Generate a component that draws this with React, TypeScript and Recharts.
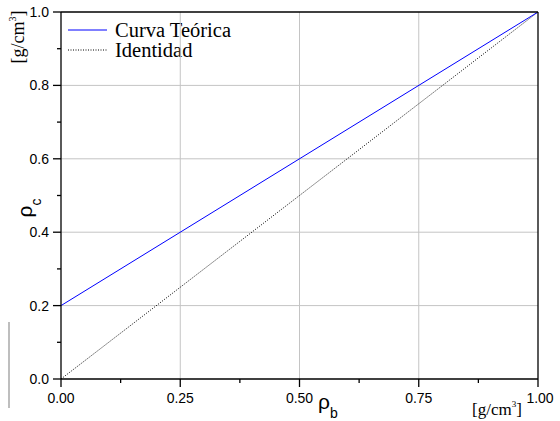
import React from 'react';
import { LineChart, Line, XAxis, YAxis, ReferenceLine, Customized } from 'recharts';

const xValues = [0, 1];
const curvaValues = [0.2, 1];
const identValues = [0, 1];

const xTicks = [0, 0.125, 0.25, 0.375, 0.5, 0.625, 0.75, 0.875, 1];
const xMajor = [0, 0.25, 0.5, 0.75, 1];
const xTickLabels = ['0.00', '0.25', '0.50', '0.75', '1.00'];
const yTicks = [0, 0.1, 0.2, 0.3, 0.4, 0.5, 0.6, 0.7, 0.8, 0.9, 1];
const yMajor = [0, 0.2, 0.4, 0.6, 0.8, 1];
const yTickLabels = ['0.0', '0.2', '0.4', '0.6', '0.8', '1.0'];
const xGrid = [0.25, 0.5, 0.75];
const yGrid = [0.2, 0.4, 0.6, 0.8];

const data = xValues.map((x, i) => ({ x, curva: curvaValues[i], ident: identValues[i] }));

const SANS = "'Liberation Sans', Arial, sans-serif";
const SERIF = "'Liberation Serif', 'Times New Roman', serif";

const XTick = (props: any) => {
  const { x, y, payload } = props;
  const idx = xMajor.indexOf(payload.value);
  const major = idx >= 0;
  return (
    <g>
      <line x1={x} x2={x} y1={y} y2={y + (major ? 8 : 4)} stroke="#000" strokeWidth={1.3} />
      {major && (
        <text x={x + (idx === 4 ? 2 : 0)} y={y + 24} textAnchor="middle" fontFamily={SANS} fontSize={14} fill="#000">
          {xTickLabels[idx]}
        </text>
      )}
    </g>
  );
};

const YTick = (props: any) => {
  const { x, y, payload } = props;
  const idx = yMajor.findIndex((v) => Math.abs(v - payload.value) < 1e-9);
  const major = idx >= 0;
  return (
    <g>
      <line x1={x} x2={x - (major ? 8 : 4)} y1={y} y2={y} stroke="#000" strokeWidth={1.3} />
      {major && (
        <text x={x - 12} y={y + 5} textAnchor="end" fontFamily={SANS} fontSize={14} fill="#000">
          {yTickLabels[idx]}
        </text>
      )}
    </g>
  );
};

const Annotations = () => (
  <g>
    <text transform="translate(32,208) rotate(-90)" x={0} y={0} textAnchor="middle" fontFamily={SANS} fontSize={21} fill="#000">
      ρ<tspan dy={9} fontSize={14}>c</tspan>
    </text>
    <text transform="translate(24,37) rotate(-90)" x={0} y={0} textAnchor="middle" fontFamily={SERIF} fontSize={18} fill="#000">
      [g/cm<tspan dy={-8} fontSize={10}>3</tspan><tspan dy={8}>]</tspan>
    </text>
    <text x={318} y={409} textAnchor="start" fontFamily={SANS} fontSize={21} fill="#000">
      ρ<tspan dy={9} fontSize={14}>b</tspan>
    </text>
    <text x={472} y={415} textAnchor="start" fontFamily={SERIF} fontSize={17} fill="#000">
      [g/cm<tspan dy={-8} fontSize={9}>3</tspan><tspan dy={8}>]</tspan>
    </text>
    <line x1={68} x2={107} y1={30} y2={30} stroke="#0000ff" strokeWidth={1} />
    <text x={115} y={37} fontFamily={SERIF} fontSize={20.5} fill="#000">Curva Teórica</text>
    <line x1={68} x2={107} y1={50} y2={50} stroke="#000" strokeWidth={1} strokeDasharray="1 1.5" />
    <text x={115} y={57} fontFamily={SERIF} fontSize={20.5} fill="#000">Identidad</text>
    <line x1={9} x2={9} y1={322} y2={408} stroke="#a8a8a8" strokeWidth={1.5} />
  </g>
);

export default function App() {
  return (
    <div style={{ position: 'absolute', left: 0, top: 0, background: '#fff' }}>
      <LineChart width={560} height={421} data={data} margin={{ top: 12, right: 22, left: 0, bottom: 0 }}>
        {xGrid.map((v) => (
          <ReferenceLine key={'gx' + v} x={v} stroke="#c4c4c4" strokeWidth={1} />
        ))}
        {yGrid.map((v) => (
          <ReferenceLine key={'gy' + v} y={v} stroke="#c4c4c4" strokeWidth={1} />
        ))}
        <XAxis
          dataKey="x"
          type="number"
          domain={[0, 1]}
          ticks={xTicks}
          interval={0}
          height={42}
          tickSize={0}
          tickMargin={0}
          tickLine={false}
          tick={<XTick />}
          axisLine={{ stroke: '#000', strokeWidth: 1.3 }}
          allowDataOverflow
        />
        <YAxis
          type="number"
          domain={[0, 1]}
          ticks={yTicks}
          interval={0}
          width={61}
          tickSize={0}
          tickMargin={0}
          tickLine={false}
          tick={<YTick />}
          axisLine={{ stroke: '#000', strokeWidth: 1.3 }}
          allowDataOverflow
        />
        <Line type="linear" dataKey="ident" stroke="#000" strokeWidth={1} strokeDasharray="1 1.5" dot={false} isAnimationActive={false} />
        <Line type="linear" dataKey="curva" stroke="#0000ff" strokeWidth={1} dot={false} isAnimationActive={false} />
        <ReferenceLine y={1} stroke="#000" strokeWidth={1.3} />
        <ReferenceLine x={1} stroke="#000" strokeWidth={1.3} />
        <Customized component={<Annotations />} />
      </LineChart>
    </div>
  );
}
